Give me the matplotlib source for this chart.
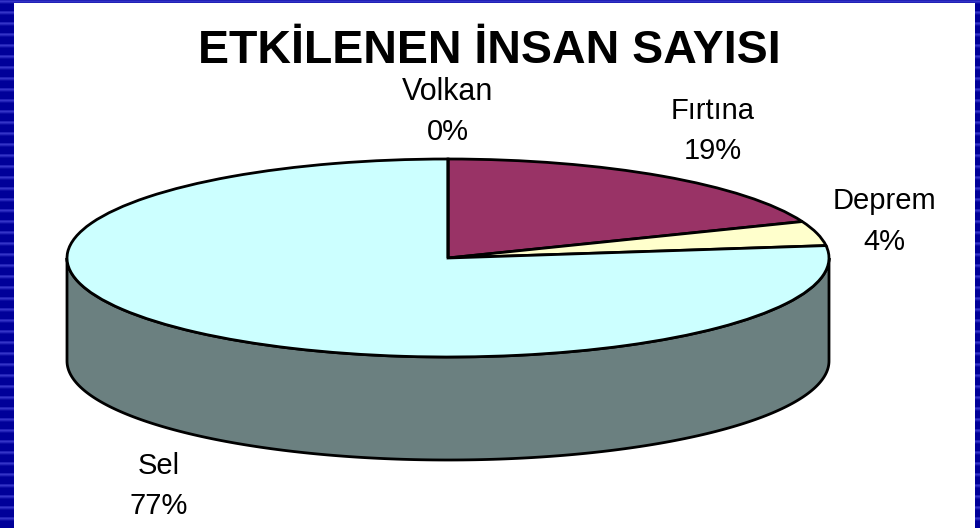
import numpy as np
import matplotlib
matplotlib.use('Agg')
import matplotlib.pyplot as plt
from matplotlib.patches import Rectangle

plt.rcParams['font.family'] = ['Liberation Sans', 'DejaVu Sans']

title = 'ETKİLENEN İNSAN SAYISI'
labels = ['Fırtına', 'Deprem', 'Sel', 'Volkan']
values = [19, 4, 77, 0]
percent = ['19%', '4%', '77%', '0%']
colors = ['#993366', '#FFFFCC', '#CCFFFF', '#660066']
side_color = '#6B8080'

W, H = 980, 528
# pie ellipse in pixels
cx, cy, rx, ry, depth = 448, 258, 381, 99, 103

fig = plt.figure(figsize=(W / 100, H / 100), dpi=100)

# striped blue frame, one soft band every 11 px
band = [(0.13, 0.13, 0.72), (0.20, 0.20, 0.78), (0.13, 0.13, 0.72), (0.05, 0.05, 0.64)]
rows = np.zeros((H, 1, 3))
rows[:] = (0, 0, 0.60)
for i, c in enumerate(band):
    rows[(np.arange(H) + 11 - i) % 11 == 0] = c

bg = fig.add_axes([0, 0, 1, 1])
bg.imshow(rows, aspect='auto', extent=(0, W, H, 0), interpolation='nearest')
bg.add_patch(Rectangle((14, 3), 961, H - 3, color='white', lw=0))
bg.set_xlim(0, W)
bg.set_ylim(H, 0)
bg.axis('off')

ax = fig.add_axes([0, 0, 1, 1])
ax.patch.set_alpha(0)

# wall of the disc under the front half
t = np.linspace(np.pi, 2 * np.pi, 200)
x = np.cos(t)
y = np.sin(t)
d = depth / ry
ax.fill(np.r_[x, x[::-1]], np.r_[y, y[::-1] - d], facecolor=side_color,
        edgecolor='black', linewidth=2, zorder=1)

ax.pie(values, colors=colors, startangle=90, counterclock=False, radius=1,
       wedgeprops={'edgecolor': 'black', 'linewidth': 2, 'zorder': 2})

# squash the pie to an ellipse
ax.set_aspect('auto')
ax.set_xlim(-cx / rx, (W - cx) / rx)
ax.set_ylim((cy - H) / ry, cy / ry)
ax.axis('off')


def px_text(px, py, s, size=21, **kw):
    fig.text(px / W, 1 - py / H, s, ha='center', va='baseline', color='black',
             fontsize=size, **kw)


px_text(489, 63, title, size=33.5, fontweight='bold')
px_text(448, 100, labels[3], size=22)
px_text(448, 140, percent[3])
px_text(713, 119, labels[0])
px_text(713, 159, percent[0])
px_text(884, 209, labels[1])
px_text(884, 250, percent[1])
px_text(159, 474, labels[2])
px_text(159, 514, percent[2])

fig.savefig('out.png', dpi=100)
